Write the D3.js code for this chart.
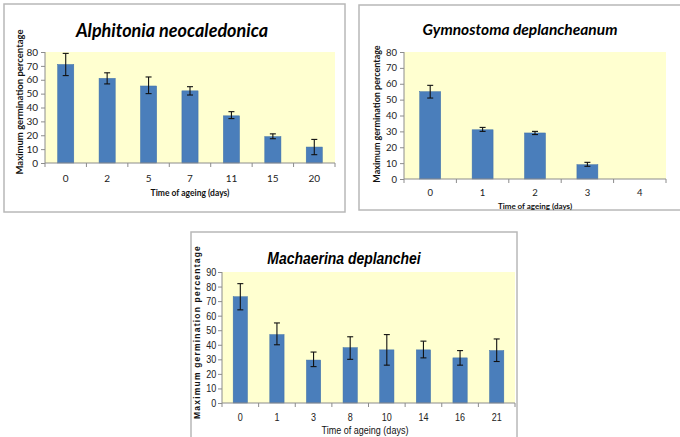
<!DOCTYPE html>
<html>
<head>
<meta charset="utf-8">
<script src="https://cdn.jsdelivr.net/npm/d3@7"></script>
<style>
  body { margin: 0; background: #fff; }
</style>
</head>
<body>
<div id="chart"></div>
<script>
// panel 1 - Alphitonia neocaledonica
const alphDays = ["0", "2", "5", "7", "11", "15", "20"];
const alphMean = [71, 61, 55.5, 52, 34, 19, 11.5];
const alphLow = [63, 57, 50, 49, 32, 17.5, 6];
const alphHigh = [79, 65, 62, 55, 37, 21, 17];

// panel 2 - Gymnostoma deplancheanum (no germination at day 4)
const gymDays = ["0", "1", "2", "3", "4"];
const gymMean = [55, 31, 29, 9, null];
const gymLow = [51, 30, 28, 8, null];
const gymHigh = [59, 32.5, 30, 10.5, null];

// panel 3 - Machaerina deplanchei
const macDays = ["0", "1", "3", "8", "10", "14", "16", "21"];
const macMean = [73, 47, 29.5, 38, 36.5, 36.5, 31, 36];
const macLow = [64, 40, 25, 30, 26, 31, 26, 28.5];
const macHigh = [82, 55, 35, 45.5, 47, 42.5, 36, 44];

const yTicks80 = [0, 10, 20, 30, 40, 50, 60, 70, 80];
const yTicks90 = [0, 10, 20, 30, 40, 50, 60, 70, 80, 90];

const width = 680;
const height = 437;

const barColor = "#4a7ebb";
const plotBg = "#ffffd0";

const svg = d3.select("#chart").append("svg")
    .attr("width", width)
    .attr("height", height)
    .attr("viewBox", [0, 0, width, height])
    .style("font-family", "Lato, 'Open Sans', sans-serif");

function draw_panel(opt) {
    const g = svg.append("g");
    const sx = opt.sx || 1; // horizontal squeeze, stands in for a narrow font

    // outer chart frame
    g.append("rect")
        .attr("x", opt.frame[0]).attr("y", opt.frame[1])
        .attr("width", opt.frame[2]).attr("height", opt.frame[3])
        .attr("fill", "#fff")
        .attr("stroke", "#b8b8b8")
        .attr("stroke-width", 1.5);

    const x = d3.scaleBand(opt.days, [opt.left, opt.right]).paddingInner(0).paddingOuter(0);
    const y = d3.scaleLinear([0, opt.yMax], [opt.bottom, opt.top]);

    g.append("rect")
        .attr("x", opt.left).attr("y", opt.top)
        .attr("width", opt.right - opt.left).attr("height", opt.bottom - opt.top)
        .attr("fill", plotBg);

    const I = d3.range(opt.days.length).filter(i => opt.mean[i] != null);
    const barW = x.bandwidth() * opt.barRatio;

    g.append("g")
        .selectAll("rect")
        .data(I)
        .join("rect")
        .attr("x", i => x(opt.days[i]) + (x.bandwidth() - barW) / 2)
        .attr("y", i => y(opt.mean[i]))
        .attr("width", barW)
        .attr("height", i => y(0) - y(opt.mean[i]))
        .attr("fill", barColor)
        .attr("stroke", "#3d6ea8")
        .attr("stroke-width", 0.5);

    // error bars
    const eb = g.append("g").attr("stroke", "#111").attr("stroke-width", 1.1)
        .selectAll("g").data(I).join("g")
        .attr("transform", i => `translate(${x(opt.days[i]) + x.bandwidth() / 2},0)`);
    eb.append("line").attr("y1", i => y(opt.low[i])).attr("y2", i => y(opt.high[i]));
    eb.append("line").attr("x1", -3).attr("x2", 3).attr("y1", i => y(opt.low[i])).attr("y2", i => y(opt.low[i]));
    eb.append("line").attr("x1", -3).attr("x2", 3).attr("y1", i => y(opt.high[i])).attr("y2", i => y(opt.high[i]));

    // y axis
    const yAxis = d3.axisLeft(y).tickValues(opt.yTicks).tickSize(4).tickPadding(3).tickFormat(d3.format("d"));
    g.append("g")
        .attr("transform", `translate(${opt.left},0)`)
        .call(yAxis)
        .call(a => a.select(".domain").attr("stroke", "#8c8c8c").attr("d", `M0,${opt.top}V${opt.bottom}`))
        .call(a => a.selectAll(".tick line").attr("stroke", "#8c8c8c"))
        .call(a => a.selectAll(".tick text")
            .attr("fill", "#222")
            .attr("transform", `scale(${sx},1)`)
            .style("font-family", opt.font)
            .style("font-size", opt.tickSize + "px"));

    // x axis: excel style, ticks between categories
    const bounds = opt.days.map(d => x(d)).concat([opt.right]);
    const xa = g.append("g");
    xa.append("line")
        .attr("x1", opt.left).attr("x2", opt.right)
        .attr("y1", opt.bottom).attr("y2", opt.bottom)
        .attr("stroke", "#8c8c8c");
    xa.selectAll(".tk").data(bounds).join("line")
        .attr("x1", d => d).attr("x2", d => d)
        .attr("y1", opt.bottom).attr("y2", opt.bottom + 4)
        .attr("stroke", "#8c8c8c");
    xa.selectAll("text").data(opt.days).join("text")
        .attr("transform", d => `translate(${x(d) + x.bandwidth() / 2},${opt.xLabelY}) scale(${sx},1)`)
        .attr("dy", "0.35em")
        .attr("text-anchor", "middle")
        .attr("fill", "#222")
        .style("font-family", opt.font)
        .style("font-size", opt.tickSize + "px")
        .text(d => d);

    // titles
    g.append("text")
        .attr("transform", `translate(${opt.titleX},${opt.titleY}) scale(${sx},1)`)
        .attr("text-anchor", "middle")
        .style("font-family", opt.font)
        .style("font-size", opt.titleSize + "px")
        .style("font-weight", "bold")
        .style("font-style", "italic")
        .attr("fill", "#000")
        .text(opt.title);

    g.append("text")
        .attr("transform", `translate(${opt.xTitleX},${opt.xTitleY}) scale(${sx},1)`)
        .attr("dy", "0.35em")
        .attr("text-anchor", "middle")
        .style("font-family", opt.font)
        .style("font-size", opt.axisTitleSize + "px")
        .style("font-weight", opt.xTitleWeight)
        .attr("fill", "#111")
        .text("Time of ageing (days)");

    g.append("text")
        .attr("transform", `translate(${opt.yTitleX},${opt.yTitleY}) rotate(-90)`)
        .attr("dy", "0.35em")
        .attr("text-anchor", "middle")
        .style("font-family", opt.font)
        .style("font-size", opt.yTitleSize + "px")
        .style("font-weight", "bold")
        .style("letter-spacing", opt.yTitleSpacing + "px")
        .attr("fill", "#111")
        .text("Maximum germination percentage");
}

draw_panel({
    frame: [4, 4, 341, 208],
    days: alphDays, mean: alphMean, low: alphLow, high: alphHigh,
    left: 45, right: 335, top: 52, bottom: 163, yMax: 80, yTicks: yTicks80,
    barRatio: 0.39,
    font: "Lato, sans-serif", tickSize: 10,
    xLabelY: 178,
    title: "Alphitonia neocaledonica", titleSize: 18,
    titleX: 172, titleY: 37,
    xTitleX: 190, xTitleY: 193, xTitleWeight: "bold", axisTitleSize: 8.5,
    yTitleX: 20, yTitleY: 102, yTitleSize: 9.5, yTitleSpacing: 0
});

draw_panel({
    frame: [359, 5, 330, 205],
    days: gymDays, mean: gymMean, low: gymLow, high: gymHigh,
    left: 404, right: 666, top: 52, bottom: 179, yMax: 80, yTicks: yTicks80,
    barRatio: 0.4,
    font: "Lato, sans-serif", tickSize: 9.5,
    xLabelY: 193,
    title: "Gymnostoma deplancheanum", titleSize: 15.5,
    titleX: 520, titleY: 35,
    xTitleX: 535, xTitleY: 206, xTitleWeight: "bold", axisTitleSize: 8,
    yTitleX: 377, yTitleY: 114, yTitleSize: 9, yTitleSpacing: 0
});

draw_panel({
    frame: [191, 232, 326, 220],
    days: macDays, mean: macMean, low: macLow, high: macHigh,
    left: 222, right: 515, top: 272, bottom: 403, yMax: 90, yTicks: yTicks90,
    barRatio: 0.39, sx: 0.82,
    font: "'Liberation Sans', Arial, sans-serif", tickSize: 11,
    xLabelY: 417,
    title: "Machaerina deplanchei", titleSize: 17,
    titleX: 344, titleY: 264,
    xTitleX: 365, xTitleY: 430, xTitleWeight: "normal", axisTitleSize: 11,
    yTitleX: 197, yTitleY: 332, yTitleSize: 8.5, yTitleSpacing: 1.2
});
</script>
</body>
</html>
